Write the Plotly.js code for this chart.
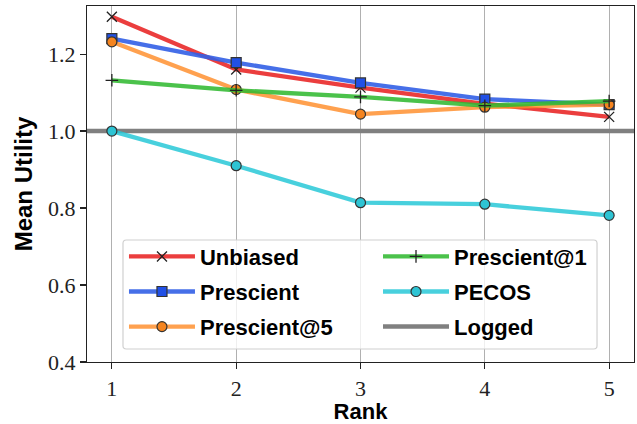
<!DOCTYPE html>
<html>
<head>
<meta charset="utf-8">
<script src="https://cdn.plot.ly/plotly-3.0.1.min.js"></script>
<style>html,body{margin:0;padding:0;background:#fff;}#chart{width:637px;height:424px;}</style>
</head>
<body>
<div id="chart"></div>
<script>
const ranks = [1, 2, 3, 4, 5];
const unbiased = [1.297, 1.160, 1.113, 1.071, 1.037];
const prescient = [1.240, 1.178, 1.125, 1.083, 1.069];
const prescient5 = [1.232, 1.108, 1.044, 1.062, 1.069];
const prescient1 = [1.132, 1.106, 1.089, 1.066, 1.078];
const pecos = [1.000, 0.910, 0.814, 0.810, 0.781];
const logged = 1.0;
const yTickVals = [0.4, 0.6, 0.8, 1.0, 1.2];
const yTickText = ['0.4', '0.6', '0.8', '1.0', '1.2'];
const xTickVals = [1, 2, 3, 4, 5];
const xTickText = ['1', '2', '3', '4', '5'];

const edge = '#333333';
const traces = [
  {name: 'Logged', x: [0.8, 5.2], y: [logged, logged], mode: 'lines',
   line: {color: 'rgb(128,128,128)', width: 4.5}, legend: 'legend2', legendgroup: 'g6', legendrank: 3},
  {name: 'Unbiased', x: ranks, y: unbiased, mode: 'lines+markers',
   line: {color: 'rgba(232,35,35,0.88)', width: 4.3},
   marker: {symbol: 'x-thin', size: 10, line: {color: '#222', width: 1.3}, color: '#222'},
   legend: 'legend', legendgroup: 'g1', legendrank: 1},
  {name: 'Prescient', x: ranks, y: prescient, mode: 'lines+markers',
   line: {color: 'rgba(50,95,230,0.9)', width: 4.3},
   marker: {symbol: 'square', size: 10, color: '#2150e6', line: {color: edge, width: 1.2}},
   legend: 'legend', legendgroup: 'g2', legendrank: 2},
  {name: 'Prescient@5', x: ranks, y: prescient5, mode: 'lines+markers',
   line: {color: 'rgba(255,140,40,0.82)', width: 4.3},
   marker: {symbol: 'circle', size: 10, color: '#f5841f', line: {color: edge, width: 1.2}},
   legend: 'legend', legendgroup: 'g3', legendrank: 3},
  {name: 'Prescient@1', x: ranks, y: prescient1, mode: 'lines+markers',
   line: {color: 'rgba(50,185,50,0.88)', width: 4.3},
   marker: {symbol: 'cross-thin', size: 9, color: '#222', line: {color: '#222', width: 1.3}},
   legend: 'legend2', legendgroup: 'g4', legendrank: 1},
  {name: 'PECOS', x: ranks, y: pecos, mode: 'lines+markers',
   line: {color: 'rgba(40,200,215,0.85)', width: 4.3},
   marker: {symbol: 'circle', size: 10, color: '#2ec4d4', line: {color: edge, width: 1.2}},
   legend: 'legend2', legendgroup: 'g5', legendrank: 2}
];

const legendFont = {family: 'Liberation Sans, Arial, sans-serif', size: 22, color: '#000', weight: 'bold'};
const rx = 0.006, ry = 0.009;
const bx0 = 0.0658, bx1 = 0.9324, by0 = 0.0365, by1 = 0.3427;
const boxPath = `M${bx0+rx},${by0} L${bx1-rx},${by0} Q${bx1},${by0} ${bx1},${by0+ry} L${bx1},${by1-ry} Q${bx1},${by1} ${bx1-rx},${by1} L${bx0+rx},${by1} Q${bx0},${by1} ${bx0},${by1-ry} L${bx0},${by0+ry} Q${bx0},${by0} ${bx0+rx},${by0} Z`;

const layout = {
  width: 637, height: 424,
  margin: {l: 87, r: 3, t: 6, b: 62},
  paper_bgcolor: '#fff', plot_bgcolor: '#fff',
  showlegend: true,
  font: {family: 'Liberation Serif, Times New Roman, serif', size: 22, color: '#222'},
  xaxis: {
    range: [0.8, 5.2], tickvals: xTickVals, ticktext: xTickText,
    showgrid: true, gridcolor: '#b0b0b0', gridwidth: 1,
    zeroline: false, showline: true, linecolor: '#222', linewidth: 1.2, mirror: true,
    ticks: 'outside', ticklen: 6, tickcolor: '#222', tickwidth: 1.2,
    tickfont: {family: 'Liberation Serif, serif', size: 22, color: '#222'},
    title: {text: 'Rank', font: {family: 'Liberation Sans, Arial, sans-serif', size: 22, color: '#000', weight: 'bold'}, standoff: 6}
  },
  yaxis: {
    range: [0.4, 1.325], tickvals: yTickVals, ticktext: yTickText,
    showgrid: false, zeroline: false, showline: true, linecolor: '#222', linewidth: 1.2, mirror: true,
    ticks: 'outside', ticklen: 6, tickcolor: '#222', tickwidth: 1.2,
    tickfont: {family: 'Liberation Serif, serif', size: 22, color: '#222'},
    title: {text: 'Mean Utility', font: {family: 'Liberation Sans, Arial, sans-serif', size: 24, color: '#000', weight: 'bold'}, standoff: 8}
  },
  shapes: [{type: 'path', xref: 'paper', yref: 'paper', path: boxPath, layer: 'above',
            fillcolor: 'rgba(255,255,255,0.8)', line: {color: '#d0d0d0', width: 1.2}}],
  legend: {x: 0.0676, y: 0.355, xanchor: 'left', yanchor: 'top', bgcolor: 'rgba(0,0,0,0)', borderwidth: 0,
           font: legendFont, itemwidth: 66, tracegroupgap: 3.5, traceorder: 'grouped'},
  legend2: {x: 0.532, y: 0.355, xanchor: 'left', yanchor: 'top', bgcolor: 'rgba(0,0,0,0)', borderwidth: 0,
           font: legendFont, itemwidth: 66, tracegroupgap: 3.5, traceorder: 'grouped'}
};

Plotly.newPlot('chart', traces, layout, {displayModeBar: false, staticPlot: true});
</script>
</body>
</html>
